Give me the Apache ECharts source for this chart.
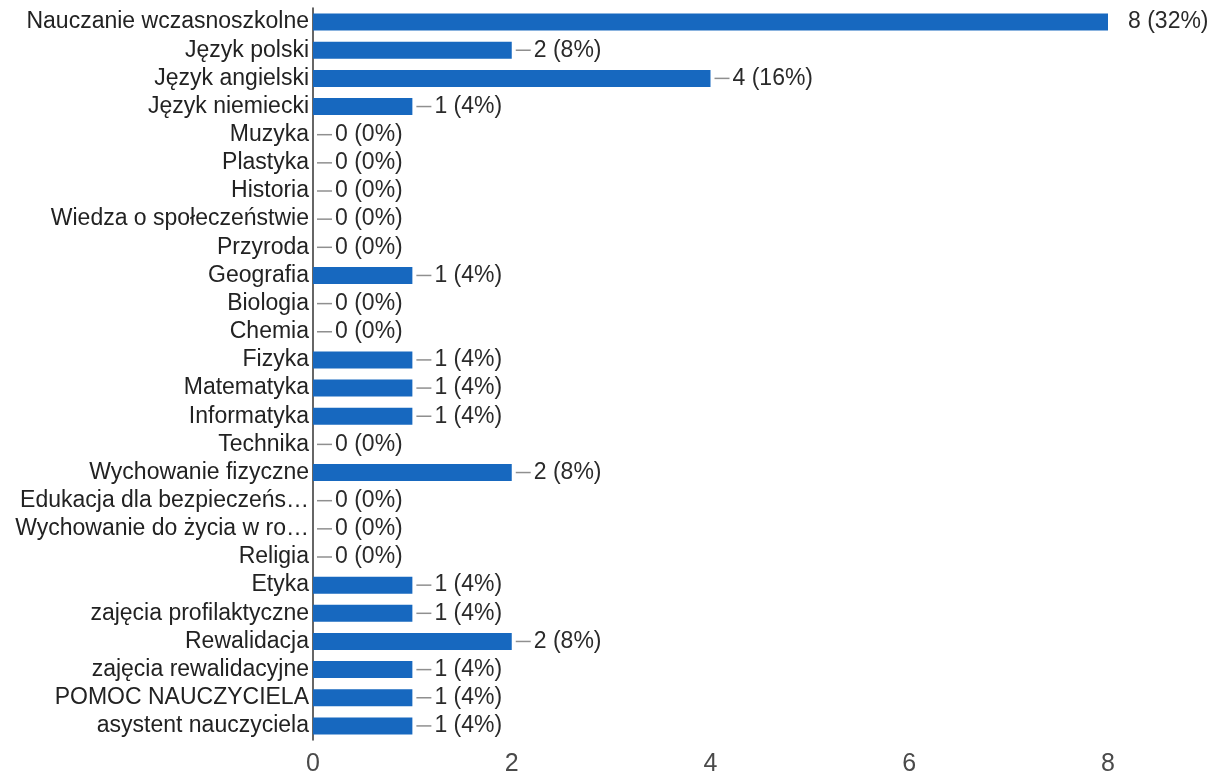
<!DOCTYPE html>
<html>
<head>
<meta charset="utf-8">
<script src="https://cdn.jsdelivr.net/npm/echarts@6/dist/echarts.min.js"></script>
<style>
html,body{margin:0;padding:0;background:#fff;}
#chart{width:1214px;height:777px;}
</style>
</head>
<body>
<div id="chart"></div>
<script>
const categories = [
  "Nauczanie wczasnoszkolne", "Język polski", "Język angielski", "Język niemiecki",
  "Muzyka", "Plastyka", "Historia", "Wiedza o społeczeństwie", "Przyroda",
  "Geografia", "Biologia", "Chemia", "Fizyka", "Matematyka", "Informatyka",
  "Technika", "Wychowanie fizyczne", "Edukacja dla bezpieczeńs…",
  "Wychowanie do życia w ro…", "Religia", "Etyka", "zajęcia profilaktyczne",
  "Rewalidacja", "zajęcia rewalidacyjne", "POMOC NAUCZYCIELA", "asystent nauczyciela"
];
const counts = [8, 2, 4, 1, 0, 0, 0, 0, 0, 1, 0, 0, 1, 1, 1, 0, 2, 0, 0, 0, 1, 1, 2, 1, 1, 1];
const percents = [32, 8, 16, 4, 0, 0, 0, 0, 0, 4, 0, 0, 4, 4, 4, 0, 8, 0, 0, 0, 4, 4, 8, 4, 4, 4];
const xTicks = [0, 2, 4, 6, 8];

const chart = echarts.init(document.getElementById('chart'), null, {renderer: 'canvas'});

const FONT = '"Liberation Sans", Arial, sans-serif';

const seriesData = counts.map((v, i) => {
  const item = {value: v};
  if (i === 0) {
    item.label = {distance: 20, formatter: () => '{t0|' + v + ' (' + percents[i] + '%)}'};
  }
  return item;
});

chart.setOption({
  animation: false,
  backgroundColor: '#ffffff',
  grid: {left: 313, right: 106, top: 8, bottom: 36, containLabel: false},
  xAxis: {
    type: 'value',
    min: xTicks[0],
    max: xTicks[xTicks.length - 1],
    interval: 2,
    axisLine: {show: false},
    axisTick: {show: false},
    splitLine: {show: false},
    axisLabel: {
      color: '#4a4a4a',
      fontSize: 25,
      fontFamily: '"Liberation Sans Narrow", "Liberation Sans", Arial, sans-serif',
      margin: 12
    }
  },
  yAxis: {
    type: 'category',
    data: categories,
    inverse: true,
    axisLine: {show: true, lineStyle: {color: '#333333', width: 1.5}},
    axisTick: {show: false},
    axisLabel: {
      interval: 0,
      color: '#222222',
      fontSize: 23,
      fontFamily: FONT,
      margin: 4
    }
  },
  series: [{
    type: 'bar',
    data: seriesData,
    barWidth: 17,
    itemStyle: {color: '#1768bf'},
    label: {
      show: true,
      position: 'right',
      distance: 4,
      formatter: (p) => '{d|}{t|' + counts[p.dataIndex] + ' (' + percents[p.dataIndex] + '%)}',
      rich: {
        d: {width: 15, height: 1.5, backgroundColor: '#8f8f8f', verticalAlign: 'middle'},
        t: {color: '#2a2a2a', fontSize: 23, fontFamily: FONT, padding: [0, 0, 0, 3], verticalAlign: 'middle'},
        t0: {color: '#2a2a2a', fontSize: 23, fontFamily: FONT}
      }
    }
  }]
});
</script>
</body>
</html>
